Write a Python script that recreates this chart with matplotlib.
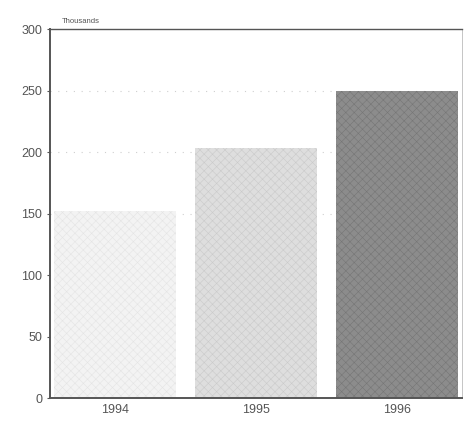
import matplotlib
matplotlib.use("Agg")
import matplotlib.pyplot as plt

plt.rcParams["font.family"] = ["Liberation Sans", "DejaVu Sans"]
plt.rcParams["hatch.linewidth"] = 0.4

years = ["1994", "1995", "1996"]
values = [152, 203, 250]
bar_colors = ["#f3f3f3", "#dedede", "#8c8c8c"]
grain_colors = ["#e4e4e4", "#cacaca", "#767676"]
y_ticks = [0, 50, 100, 150, 200, 250, 300]

fig = plt.figure(figsize=(4.65, 4.24), dpi=100)
ax = fig.add_axes([0.1075, 0.0613, 0.886, 0.8703])

x = range(len(years))
bars = ax.bar(x, values, width=0.87, color=bar_colors, linewidth=0, zorder=2)
for b, gc in zip(bars, grain_colors):
    b.set_hatch("xxxx")
    b.set_edgecolor(gc)

ax.set_xlim(-0.46, 2.46)
ax.set_ylim(0, 300)
ax.set_xticks(list(x))
ax.set_xticklabels(years)
ax.set_yticks(y_ticks)

for v in [150, 200, 250]:
    ax.axhline(v, color="#cfcfcf", linestyle=(0, (1, 6)), linewidth=0.8, zorder=1)

for s in ["left", "bottom", "top", "right"]:
    ax.spines[s].set_color("#555555")
ax.spines["left"].set_linewidth(1.4)
ax.spines["bottom"].set_linewidth(1.4)
ax.spines["top"].set_linewidth(1.0)
ax.spines["right"].set_linewidth(0.6)
ax.spines["right"].set_color("#bbbbbb")

ax.tick_params(axis="both", labelsize=9, colors="#555555", length=2)
ax.tick_params(axis="x", length=0, pad=4)

fig.text(0.133, 0.94, "Thousands", fontsize=5.5, color="#555555", ha="left", va="bottom")

fig.savefig("out.png", dpi=100)
